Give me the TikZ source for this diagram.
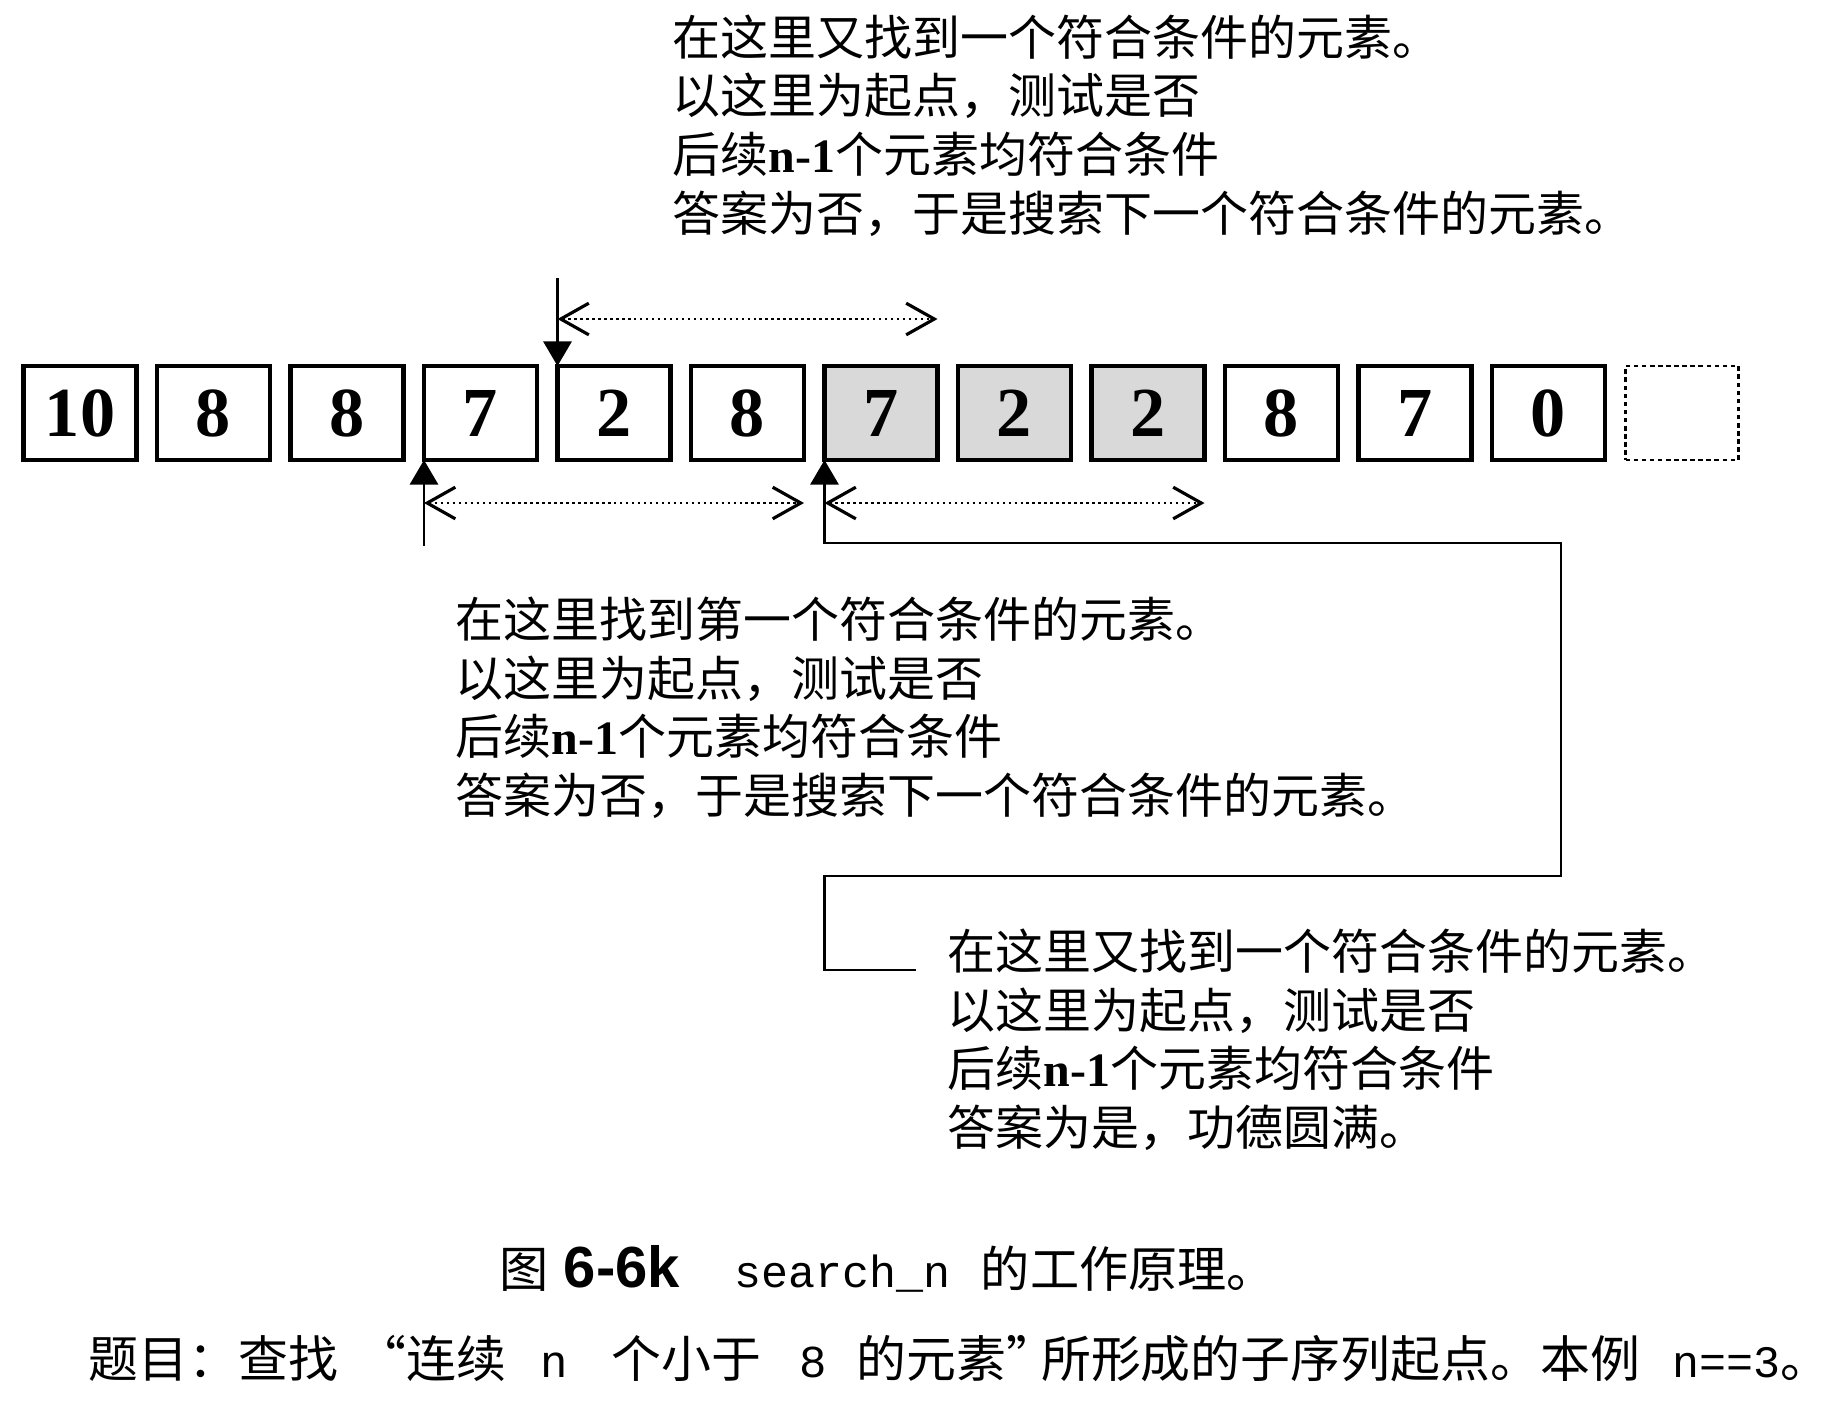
\documentclass[tikz,border=0pt]{standalone}
\usepackage{fontspec}
\setmainfont{Liberation Serif}
\setsansfont{Liberation Sans}
\setmonofont{Liberation Mono}
\newfontfamily\cjk{Noto Sans CJK SC}
\usetikzlibrary{arrows.meta, positioning, calc}

\begin{document}
\begin{tikzpicture}[node distance=2.05mm,
    cell/.style={draw, line width=1.3pt, minimum width=11.3mm, minimum height=9.4mm,
        inner sep=0pt, outer sep=0pt, font=\fontsize{20}{24}\selectfont\bfseries},
    hit/.style={cell, fill=gray!30},
    endcell/.style={cell, densely dotted, line width=0.8pt},
    note/.style={align=left, anchor=north west, inner sep=0pt,
        font=\fontsize{13.65}{16.7}\selectfont\cjk},
    ptr/.style={line width=0.8pt, -{Triangle[length=7pt, width=8pt]}},
    span/.style={densely dotted, line width=0.7pt,
        {Straight Barb[length=8pt, width=9pt, line width=0.9pt]}-{Straight Barb[length=8pt, width=9pt, line width=0.9pt]}}]
    \useasboundingbox (0,0) rectangle (18.42,-14.02);

    % the sequence
    \node[cell] (b1) at (0.80,-4.13) {10};
    \node[cell, right=of b1] (b2) {8};
    \node[cell, right=of b2] (b3) {8};
    \node[cell, right=of b3] (b4) {7};
    \node[cell, right=of b4] (b5) {2};
    \node[cell, right=of b5] (b6) {8};
    \node[hit, right=of b6] (b7) {7};
    \node[hit, right=of b7] (b8) {2};
    \node[hit, right=of b8] (b9) {2};
    \node[cell, right=of b9] (b10) {8};
    \node[cell, right=of b10] (b11) {7};
    \node[cell, right=of b11] (b12) {0};
    \node[endcell, right=of b12] (b13) {};

    % pointers
    \coordinate (down5) at ($(b5.north west)+(0,0.88)$);
    \coordinate (up4) at ($(b4.south west)+(0,-0.86)$);
    \draw[ptr] (down5) -- (b5.north west);
    \draw[ptr] (up4) -- (b4.south west);

    % tested ranges
    \coordinate (s5) at ($(b5.north west)+(0,0.47)$);
    \coordinate (e7) at ($(b7.north east)+(0,0.47)$);
    \coordinate (s4) at ($(b4.south west)+(0,-0.43)$);
    \coordinate (e6) at ($(b6.south east)+(0,-0.43)$);
    \coordinate (s7) at ($(b7.south west)+(0,-0.43)$);
    \coordinate (e9) at ($(b9.south east)+(0,-0.43)$);
    \draw[span] (s5) -- (e7);
    \draw[span] (s4) -- (e6);
    \draw[span] (s7) -- (e9);

    % notes
    \node[note] (t1) at (6.72,-0.14) {在这里又找到一个符合条件的元素。\\以这里为起点，测试是否\\后续{\rmfamily\bfseries n-1}个元素均符合条件\\答案为否，于是搜索下一个符合条件的元素。};
    \node[note] (t2) at (4.55,-5.96) {在这里找到第一个符合条件的元素。\\以这里为起点，测试是否\\后续{\rmfamily\bfseries n-1}个元素均符合条件\\答案为否，于是搜索下一个符合条件的元素。};
    \node[note] (t3) at (9.47,-9.28) {在这里又找到一个符合条件的元素。\\以这里为起点，测试是否\\后续{\rmfamily\bfseries n-1}个元素均符合条件\\答案为是，功德圆满。};

    % from the third note back to its element
    \coordinate (c3) at (9.16,-9.70);
    \draw[ptr] (c3) -- (c3 -| b7.south west) |- (15.61,-8.76) |- ($(b7.south west)+(0,-0.83)$) -- (b7.south west);

    % caption
    \node[anchor=west, inner sep=0pt, font=\fontsize{14}{16}\selectfont\cjk] (cap) at (4.99,-12.69)
        {图\hspace{0.15cm}{\sffamily\bfseries\fontsize{16.5}{18}\selectfont 6-6k}\hspace{0.55cm}{\ttfamily\fontsize{12.8}{14}\selectfont search\_n}\hspace{0.3cm}的工作原理。};
    \node[anchor=west, inner sep=0pt, font=\fontsize{14.2}{16}\selectfont\cjk] (task) at (0.88,-13.59)
        {题目：查找\hspace{0.18cm}“连续\hspace{0.35cm}{\ttfamily\fontsize{13}{14}\selectfont n}\hspace{0.43cm}个小于\hspace{0.38cm}{\ttfamily\fontsize{13}{14}\selectfont 8}\hspace{0.3cm}的元素”\hspace{-0.15cm}所形成的子序列起点。本例\hspace{0.32cm}{\ttfamily\fontsize{12.8}{14}\selectfont n==3}。};
\end{tikzpicture}
\end{document}
